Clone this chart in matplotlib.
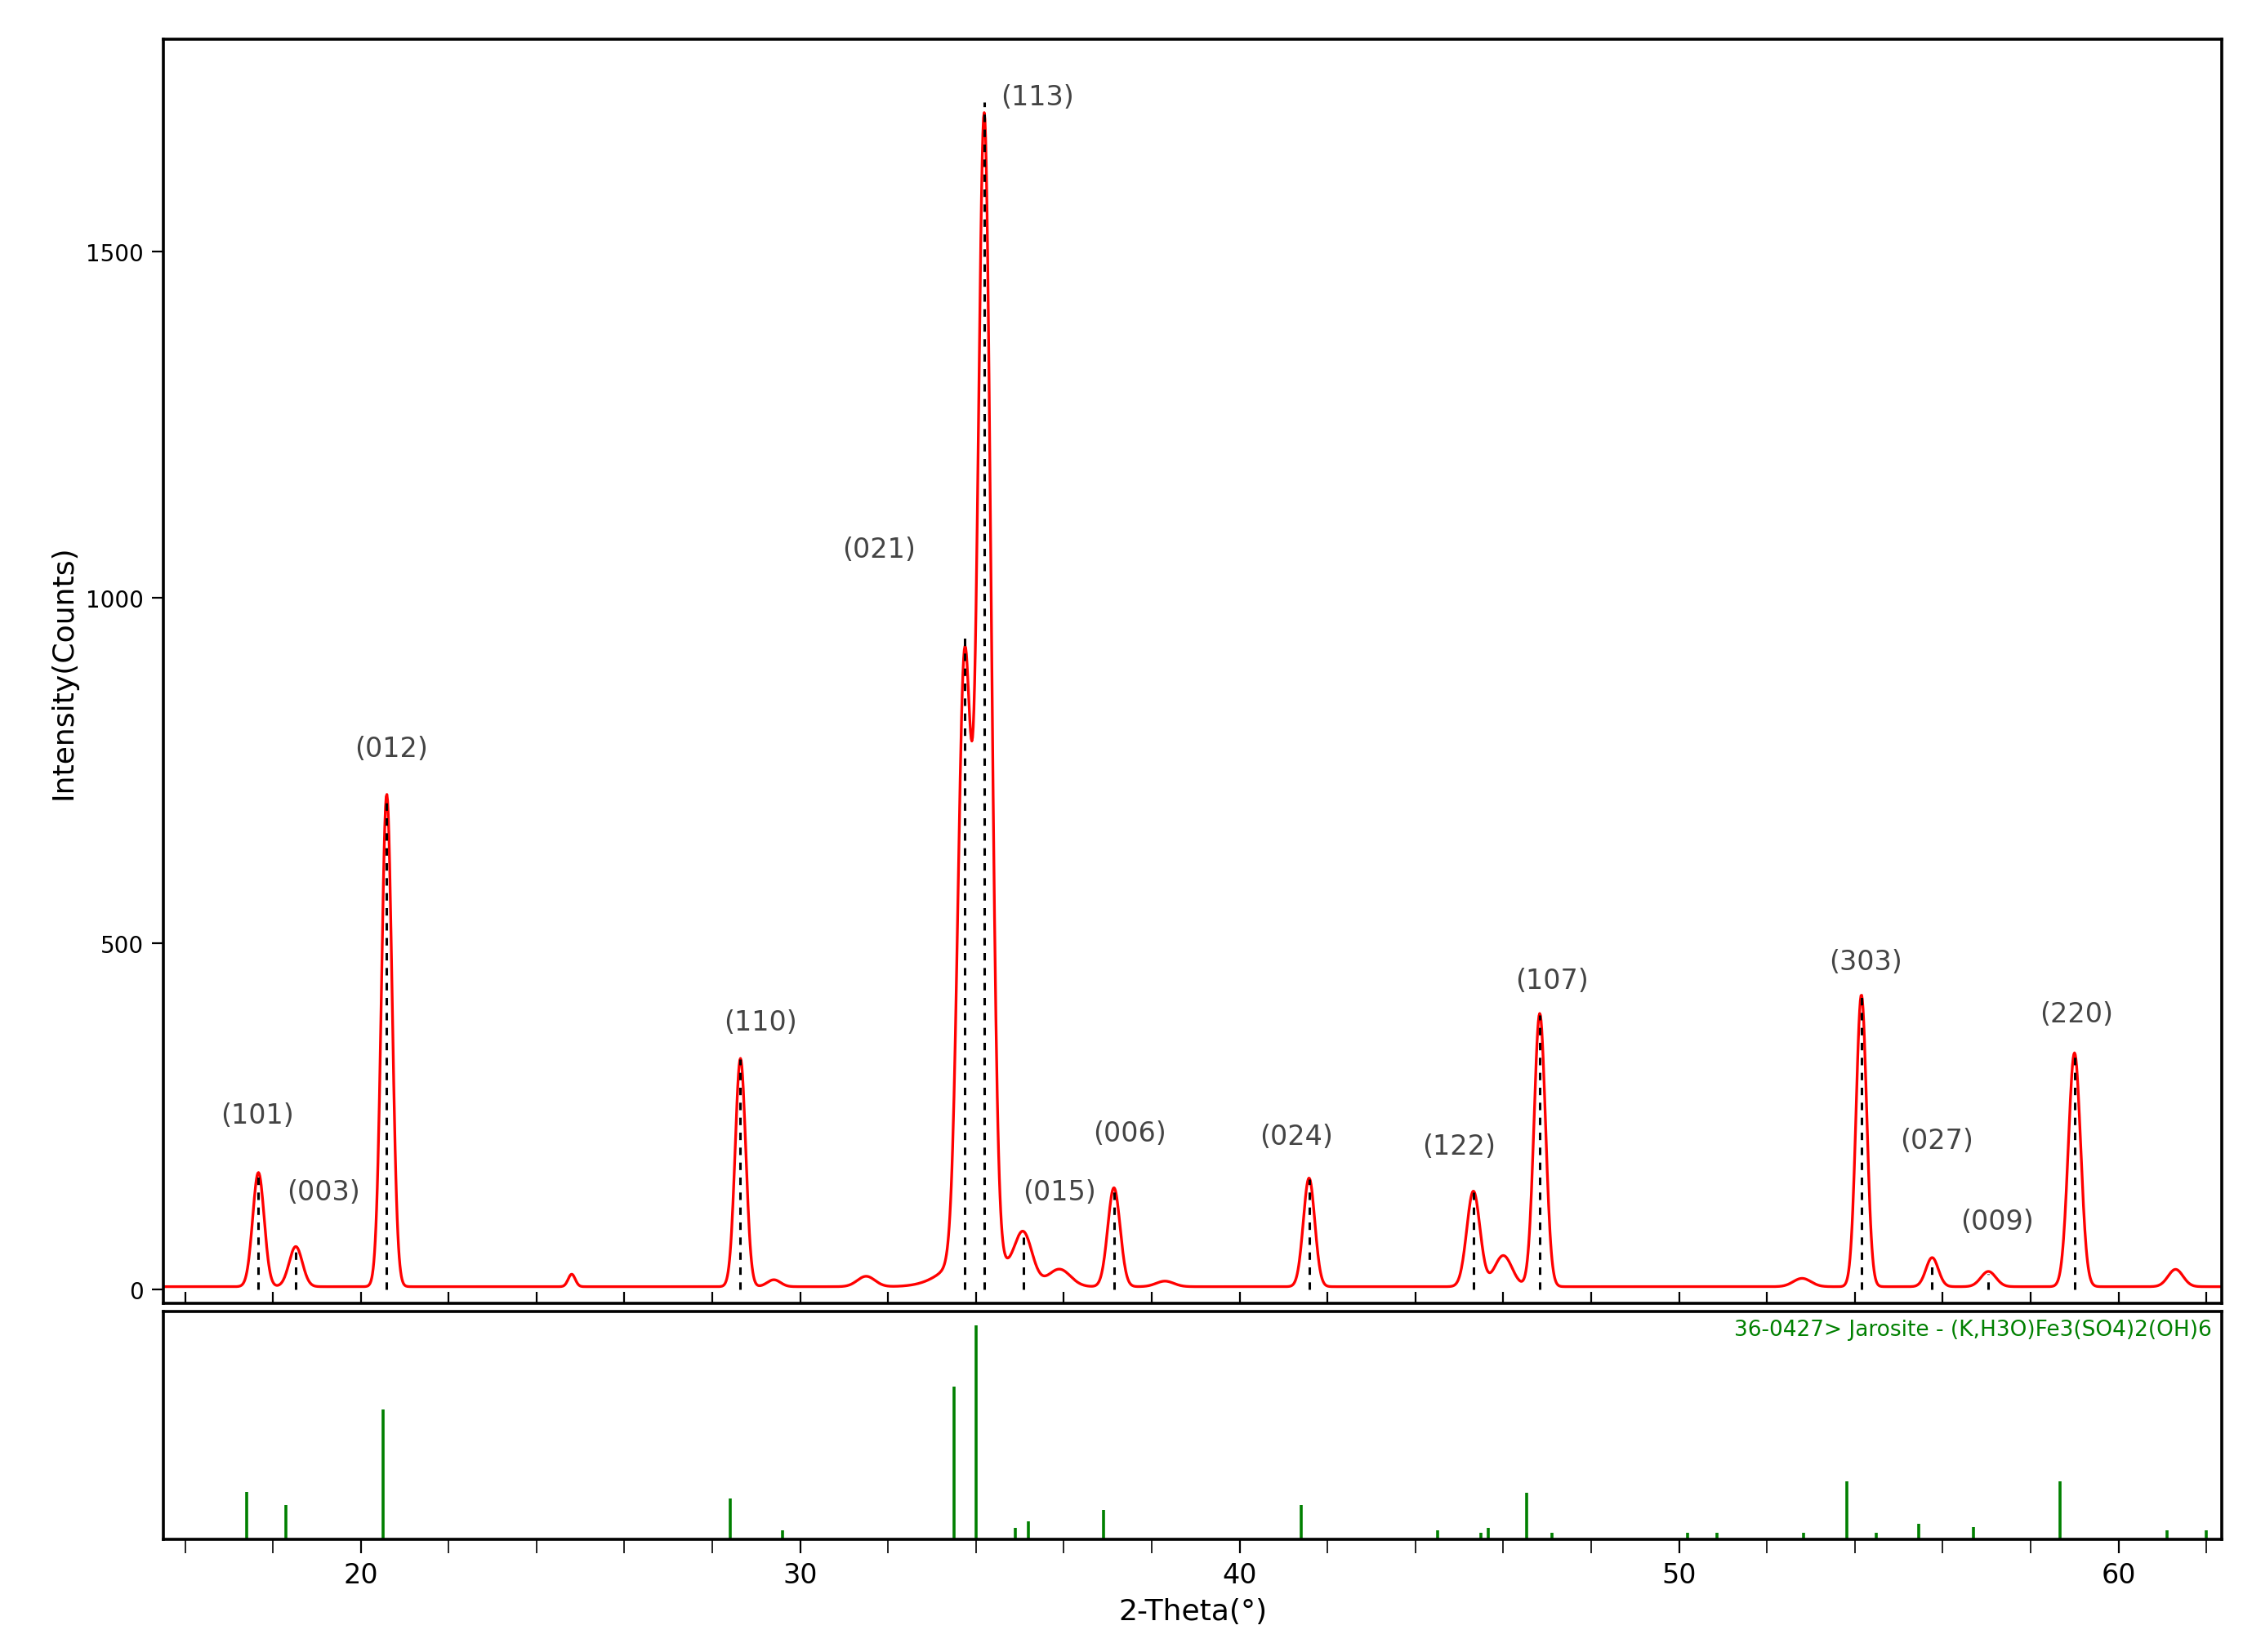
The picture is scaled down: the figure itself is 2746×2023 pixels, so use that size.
import numpy as np
import matplotlib.pyplot as plt
from matplotlib.ticker import MultipleLocator

# measured peaks: position (deg), height (counts), width sigma (deg)
peak_pos = [17.67, 18.52, 20.59, 24.8, 28.64, 29.4, 31.5, 33.74, 34.19, 34.0, 35.08, 35.9,
            37.14, 38.3, 41.58, 45.32, 46.0, 46.83, 52.8, 54.15, 55.76, 57.04, 59.0, 61.3]
peak_h = [165, 58, 712, 18, 330, 10, 15, 860, 1640, 50, 70, 25,
          143, 8, 157, 138, 45, 395, 12, 422, 42, 22, 338, 25]
peak_w = [0.13, 0.15, 0.12, 0.08, 0.12, 0.15, 0.2, 0.15, 0.15, 0.6, 0.2, 0.25,
          0.14, 0.2, 0.13, 0.15, 0.2, 0.13, 0.2, 0.12, 0.14, 0.17, 0.14, 0.17]
baseline = 4

# indexed reflections: dashed marker position and height
ref_pos = [17.67, 18.52, 20.59, 28.64, 33.74, 34.19, 35.08, 37.14, 41.58, 45.32,
           46.83, 54.15, 55.76, 57.04, 59.0]
ref_h = [168, 60, 714, 333, 945, 1717, 75, 145, 159, 141, 397, 424, 43, 23, 341]

labels = ["(101)", "(003)", "(012)", "(110)", "(021)", "(113)", "(015)", "(006)",
          "(024)", "(122)", "(107)", "(303)", "(027)", "(009)", "(220)"]
label_x = [17.64, 19.15, 20.69, 29.1, 31.8, 35.4, 35.9, 37.5, 41.3, 45.0, 47.1,
           54.25, 55.86, 57.24, 59.05]
label_y = [252, 141, 782, 387, 1070, 1724, 141, 226, 221, 207, 447, 474, 215, 99, 399]

# PDF card 36-0427 sticks (relative intensity)
card_pos = [17.4, 18.3, 20.5, 28.4, 29.6, 33.5, 34.0, 34.9, 35.2, 36.9, 41.4, 44.5,
            45.5, 45.65, 46.53, 47.1, 50.2, 50.87, 52.83, 53.82, 54.48, 55.45, 56.7,
            58.67, 61.1, 62.0]
card_h = [0.21, 0.15, 0.57, 0.18, 0.04, 0.67, 0.94, 0.05, 0.08, 0.13, 0.15, 0.04,
          0.03, 0.05, 0.206, 0.03, 0.03, 0.03, 0.03, 0.257, 0.03, 0.07, 0.055,
          0.257, 0.04, 0.04]

x = np.linspace(15.5, 62.36, 3000)
y = np.full_like(x, baseline, dtype=float)
for p, h, w in zip(peak_pos, peak_h, peak_w):
    y += h * np.exp(-0.5 * ((x - p) / w) ** 2)

fig = plt.figure(figsize=(13.73, 10.12), dpi=200)
ax = fig.add_axes([0.0727, 0.211, 0.918, 0.765])
ax2 = fig.add_axes([0.0727, 0.068, 0.918, 0.138])

ax.plot(x, y, color='red', lw=1.2)
for p, h in zip(ref_pos, ref_h):
    ax.plot([p, p], [0, h], 'k--', lw=1.1, dashes=(3, 3))
for t, lx, ly in zip(labels, label_x, label_y):
    ax.text(lx, ly, t, ha='center', va='center', fontsize=12, color='#444444')

ax.set_xlim(15.5, 62.36)
ax.set_ylim(-20, 1808)
ax.set_yticks([0, 500, 1000, 1500])
ax.set_ylabel("Intensity(Counts)", fontsize=13)
ax.xaxis.set_major_locator(MultipleLocator(2))
ax.tick_params(axis='x', direction='in', labelbottom=False, length=5)
ax.tick_params(axis='y', direction='out', labelsize=10, length=5)

ax2.vlines(card_pos, 0, card_h, color='green', lw=1.3)
ax2.set_xlim(15.5, 62.36)
ax2.set_ylim(0, 1.0)
ax2.set_yticks([])
ax2.set_xticks(np.arange(20, 61, 10))
ax2.xaxis.set_minor_locator(MultipleLocator(2))
ax2.tick_params(axis='x', which='both', direction='out', length=6, labelsize=12)
ax2.set_xlabel("2-Theta(°)", fontsize=13)
ax2.text(0.995, 0.92, "36-0427> Jarosite - (K,H3O)Fe3(SO4)2(OH)6", transform=ax2.transAxes,
         ha='right', va='center', fontsize=9.5, color='green')

for a in (ax, ax2):
    for s in a.spines.values():
        s.set_linewidth(1.3)

fig.savefig("out.png")
